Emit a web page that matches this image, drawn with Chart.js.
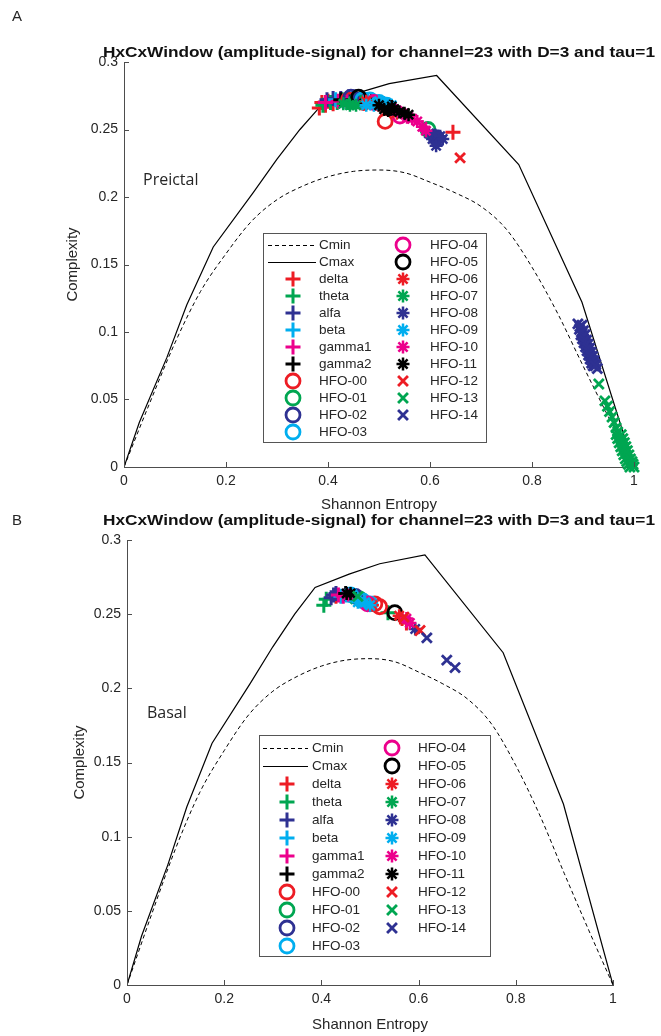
<!DOCTYPE html>
<html>
<head>
<meta charset="utf-8">
<script src="https://cdn.jsdelivr.net/npm/chart.js@4.4.0/dist/chart.umd.min.js"></script>
<style>
body{margin:0;background:#fff;width:661px;height:1036px;overflow:hidden;position:relative}
canvas{position:absolute;left:0}
#top{top:0}
#bot{top:500px}
</style>
</head>
<body>
<canvas id="top" width="661" height="520"></canvas>
<canvas id="bot" width="661" height="536"></canvas>
<script>
// axis ticks
const xTicks = [0, 0.2, 0.4, 0.6, 0.8, 1];
const yTicks = [0, 0.05, 0.1, 0.15, 0.2, 0.25, 0.3];

// Cmin / Cmax bounds
const cminH = [0, 0.05, 0.1, 0.15, 0.2, 0.25, 0.3, 0.35, 0.4, 0.45, 0.5, 0.55, 0.6, 0.65, 0.7, 0.75, 0.8, 0.85, 0.9, 0.95, 1];
const cminC = [0, 0.047, 0.092, 0.13, 0.158, 0.182, 0.198, 0.208, 0.215, 0.219, 0.22, 0.218, 0.211, 0.203, 0.193, 0.176, 0.148, 0.114, 0.075, 0.037, 0];
const cmaxH = [0, 0.03, 0.084, 0.123, 0.175, 0.253, 0.3, 0.345, 0.387, 0.457, 0.52, 0.613, 0.774, 0.898, 1];
const cmaxC = [0, 0.033, 0.081, 0.12, 0.163, 0.203, 0.228, 0.25, 0.268, 0.277, 0.284, 0.29, 0.224, 0.122, 0];

const seriesNames = ['delta', 'theta', 'alfa', 'beta', 'gamma1', 'gamma2',
  'HFO-00', 'HFO-01', 'HFO-02', 'HFO-03', 'HFO-04', 'HFO-05', 'HFO-06', 'HFO-07',
  'HFO-08', 'HFO-09', 'HFO-10', 'HFO-11', 'HFO-12', 'HFO-13', 'HFO-14'];
const red = '#ed1c24', green = '#00a651', blue = '#2e3192', cyan = '#00aeef', mag = '#ec008c', black = '#000000';
const seriesColors = [red, green, blue, cyan, mag, black,
  red, green, blue, cyan, mag, black,
  red, green, blue, cyan, mag, black,
  red, green, blue];
const seriesMarkers = ['cross', 'cross', 'cross', 'cross', 'cross', 'cross',
  'circle', 'circle', 'circle', 'circle', 'circle', 'circle',
  'star', 'star', 'star', 'star', 'star', 'star',
  'crossRot', 'crossRot', 'crossRot'];

// A - Preictal  [H, C]
const pre_delta = [[0.383, 0.266], [0.388, 0.27], [0.395, 0.268], [0.40, 0.271], [0.41, 0.269], [0.645, 0.248]];
const pre_theta = [[0.39, 0.268], [0.405, 0.27], [0.418, 0.27], [0.428, 0.272], [0.44, 0.27]];
const pre_alfa = [[0.398, 0.272], [0.41, 0.273], [0.425, 0.273], [0.44, 0.274], [0.452, 0.274]];
const pre_beta = [[0.415, 0.272], [0.43, 0.271], [0.447, 0.273], [0.46, 0.271], [0.475, 0.272], [0.49, 0.27]];
const pre_gamma1 = [[0.395, 0.27], [0.42, 0.271], [0.437, 0.272], [0.455, 0.271], [0.53, 0.265]];
const pre_gamma2 = [[0.425, 0.272], [0.445, 0.271], [0.47, 0.272], [0.485, 0.272], [0.51, 0.268]];
const pre_hfo00 = [[0.44, 0.272], [0.47, 0.27], [0.512, 0.256]];
const pre_hfo01 = [[0.455, 0.271], [0.596, 0.25]];
const pre_hfo02 = [[0.445, 0.274], [0.463, 0.272], [0.612, 0.244]];
const pre_hfo03 = [[0.468, 0.272], [0.482, 0.272], [0.50, 0.27], [0.515, 0.268]];
const pre_hfo04 = [[0.49, 0.27], [0.541, 0.26]];
const pre_hfo05 = [[0.46, 0.274], [0.52, 0.266]];
const pre_hfo06 = [[0.475, 0.271], [0.505, 0.267], [0.535, 0.262]];
const pre_hfo07 = [[0.43, 0.269], [0.443, 0.268], [0.455, 0.268]];
const pre_hfo08 = [[0.598, 0.247], [0.605, 0.243], [0.61, 0.246], [0.615, 0.241], [0.62, 0.245], [0.625, 0.243], [0.612, 0.238]];
const pre_hfo09 = [[0.475, 0.268], [0.49, 0.268], [0.50, 0.271], [0.51, 0.27], [0.525, 0.268]];
const pre_hfo10 = [[0.535, 0.264], [0.545, 0.262], [0.555, 0.259], [0.565, 0.258], [0.575, 0.256], [0.585, 0.252], [0.592, 0.249]];
const pre_hfo11 = [[0.50, 0.268], [0.51, 0.265], [0.518, 0.264], [0.525, 0.267], [0.53, 0.265], [0.54, 0.263], [0.55, 0.262], [0.558, 0.261]];
const pre_hfo12 = [[0.659, 0.229]];
const pre_hfo13 = [[0.931, 0.0615], [0.943, 0.049], [0.948, 0.045], [0.952, 0.041], [0.957, 0.037], [0.961, 0.033],
  [0.965, 0.029], [0.968, 0.026], [0.965, 0.024], [0.968, 0.021], [0.971, 0.018], [0.974, 0.015], [0.977, 0.012],
  [0.98, 0.009], [0.983, 0.006], [0.986, 0.004], [0.989, 0.002], [0.992, 0.0], [0.975, 0.024], [0.978, 0.021],
  [0.981, 0.018], [0.984, 0.015], [0.987, 0.012], [0.99, 0.009], [0.993, 0.006], [0.996, 0.004], [0.998, 0.002], [1.0, 0.0]];
const pre_hfo14 = [[0.89, 0.106], [0.893, 0.102], [0.896, 0.098], [0.899, 0.095], [0.902, 0.092], [0.905, 0.089],
  [0.908, 0.086], [0.911, 0.083], [0.914, 0.08], [0.917, 0.077], [0.92, 0.075], [0.898, 0.105], [0.901, 0.101],
  [0.904, 0.098], [0.907, 0.094], [0.91, 0.091], [0.913, 0.088], [0.916, 0.085], [0.919, 0.082], [0.922, 0.079],
  [0.925, 0.076], [0.928, 0.073], [0.894, 0.104], [0.897, 0.1], [0.9, 0.097], [0.903, 0.094], [0.906, 0.091],
  [0.909, 0.088], [0.912, 0.085], [0.915, 0.082], [0.918, 0.079], [0.921, 0.077], [0.924, 0.075]];

// B - Basal  [H, C]
const bas_delta = [[0.566, 0.247], [0.575, 0.244], [0.43, 0.262]];
const bas_theta = [[0.405, 0.256], [0.41, 0.26], [0.537, 0.251]];
const bas_alfa = [[0.42, 0.261], [0.425, 0.263], [0.43, 0.264]];
const bas_beta = [[0.44, 0.262], [0.45, 0.263], [0.47, 0.262]];
const bas_gamma1 = [[0.435, 0.263], [0.445, 0.262]];
const bas_gamma2 = [[0.45, 0.264], [0.46, 0.263]];
const bas_hfo00 = [[0.51, 0.257], [0.52, 0.255]];
const bas_hfo01 = [[0.48, 0.26]];
const bas_hfo02 = [[0.47, 0.262]];
const bas_hfo03 = [[0.46, 0.263], [0.485, 0.259], [0.50, 0.257]];
const bas_hfo04 = [[0.495, 0.257]];
const bas_hfo05 = [[0.551, 0.251]];
const bas_hfo06 = [[0.505, 0.256], [0.56, 0.249]];
const bas_hfo07 = [[0.47, 0.26]];
const bas_hfo08 = [[0.593, 0.24]];
const bas_hfo09 = [[0.48, 0.259], [0.49, 0.258], [0.50, 0.256], [0.475, 0.258]];
const bas_hfo10 = [[0.455, 0.263], [0.582, 0.244], [0.575, 0.247]];
const bas_hfo11 = [[0.452, 0.264], [0.46, 0.264]];
const bas_hfo12 = [[0.603, 0.239], [0.57, 0.248]];
const bas_hfo13 = [[0.475, 0.262]];
const bas_hfo14 = [[0.617, 0.234], [0.658, 0.219], [0.675, 0.214]];

const preictal = [pre_delta, pre_theta, pre_alfa, pre_beta, pre_gamma1, pre_gamma2,
  pre_hfo00, pre_hfo01, pre_hfo02, pre_hfo03, pre_hfo04, pre_hfo05, pre_hfo06, pre_hfo07,
  pre_hfo08, pre_hfo09, pre_hfo10, pre_hfo11, pre_hfo12, pre_hfo13, pre_hfo14];
const basal = [bas_delta, bas_theta, bas_alfa, bas_beta, bas_gamma1, bas_gamma2,
  bas_hfo00, bas_hfo01, bas_hfo02, bas_hfo03, bas_hfo04, bas_hfo05, bas_hfo06, bas_hfo07,
  bas_hfo08, bas_hfo09, bas_hfo10, bas_hfo11, bas_hfo12, bas_hfo13, bas_hfo14];

const titleText = 'HxCxWindow (amplitude-signal) for channel=23 with D=3 and tau=1';
const axisColor = '#4d4d4d';
const textColor = '#262626';
const font = '"Liberation Sans", Arial, sans-serif';

function zip(xs, ys) { return xs.map((x, i) => ({x: x, y: ys[i]})); }

function markerSize(m) {
  if (m == 'circle') return {r: 7, w: 2.8};
  if (m == 'star') return {r: 6.5, w: 2.5};
  if (m == 'crossRot') return {r: 7, w: 2.8};
  return {r: 7.5, w: 3};
}

function drawMarker(ctx, style, color, x, y) {
  const s = markerSize(style);
  const r = s.r;
  ctx.save();
  ctx.strokeStyle = color;
  ctx.lineWidth = s.w;
  ctx.beginPath();
  if (style == 'circle') {
    ctx.arc(x, y, r, 0, Math.PI * 2);
  } else if (style == 'cross') {
    ctx.moveTo(x - r, y); ctx.lineTo(x + r, y);
    ctx.moveTo(x, y - r); ctx.lineTo(x, y + r);
  } else if (style == 'crossRot') {
    const d = r * 0.707;
    ctx.moveTo(x - d, y - d); ctx.lineTo(x + d, y + d);
    ctx.moveTo(x - d, y + d); ctx.lineTo(x + d, y - d);
  } else {
    ctx.moveTo(x - r, y); ctx.lineTo(x + r, y);
    ctx.moveTo(x, y - r); ctx.lineTo(x, y + r);
    const d = r * 0.707;
    ctx.moveTo(x - d, y - d); ctx.lineTo(x + d, y + d);
    ctx.moveTo(x - d, y + d); ctx.lineTo(x + d, y - d);
  }
  ctx.stroke();
  ctx.restore();
}

const decor = {
  id: 'decor',
  afterDraw(chart, args, o) {
    const ctx = chart.ctx;
    const a = chart.chartArea;
    const xs = chart.scales.x, ys = chart.scales.y;
    ctx.save();
    // inward tick marks
    ctx.strokeStyle = axisColor;
    ctx.lineWidth = 1;
    ctx.beginPath();
    xTicks.forEach(v => {
      const px = Math.round(xs.getPixelForValue(v)) + 0.5;
      ctx.moveTo(px, a.bottom); ctx.lineTo(px, a.bottom - 5);
    });
    yTicks.forEach(v => {
      const py = Math.round(ys.getPixelForValue(v)) + 0.5;
      ctx.moveTo(a.left, py); ctx.lineTo(a.left + 5, py);
    });
    ctx.stroke();

    // panel letter
    ctx.fillStyle = textColor;
    ctx.font = '15px ' + font;
    ctx.textBaseline = 'middle';
    ctx.textAlign = 'left';
    ctx.fillText(o.letter, 12, o.letterY);

    // title, fit to its width in the figure
    ctx.fillStyle = '#111';
    ctx.font = 'bold 15px ' + font;
    const tw = ctx.measureText(titleText).width;
    ctx.save();
    ctx.translate(o.titleX0, o.titleY);
    ctx.scale((o.titleX1 - o.titleX0) / tw, 1);
    ctx.fillText(titleText, 0, 0);
    ctx.restore();

    // axis titles
    ctx.fillStyle = textColor;
    ctx.font = '15px ' + font;
    ctx.textAlign = 'center';
    ctx.fillText('Shannon Entropy', (a.left + a.right) / 2, o.xTitleY);
    ctx.save();
    ctx.translate(o.yTitleX, (a.top + a.bottom) / 2);
    ctx.rotate(-Math.PI / 2);
    ctx.fillText('Complexity', 0, 0);
    ctx.restore();

    // state label
    ctx.font = '16px "Open Sans", sans-serif';
    ctx.textAlign = 'left';
    ctx.fillText(o.state, o.stateX, o.stateY);

    // legend
    const L = o.legend;
    ctx.fillStyle = '#fff';
    ctx.fillRect(L.x0, L.y0, L.x1 - L.x0, L.y1 - L.y0);
    ctx.strokeStyle = '#555';
    ctx.lineWidth = 1;
    ctx.strokeRect(L.x0 + 0.5, L.y0 + 0.5, L.x1 - L.x0, L.y1 - L.y0);
    ctx.font = '13.5px ' + font;
    ctx.textAlign = 'left';
    ctx.fillStyle = textColor;
    // Cmin / Cmax sample lines
    ctx.strokeStyle = '#000';
    ctx.lineWidth = 1;
    ctx.setLineDash([4, 3]);
    ctx.beginPath();
    ctx.moveTo(L.lineX0, L.row0 + 0.5); ctx.lineTo(L.lineX1, L.row0 + 0.5);
    ctx.stroke();
    ctx.setLineDash([]);
    ctx.lineWidth = 1.2;
    ctx.beginPath();
    ctx.moveTo(L.lineX0, L.row0 + L.dy + 0.5); ctx.lineTo(L.lineX1, L.row0 + L.dy + 0.5);
    ctx.stroke();
    ctx.fillText('Cmin', L.text1, L.row0);
    ctx.fillText('Cmax', L.text1, L.row0 + L.dy);
    seriesNames.forEach((name, i) => {
      const slot = i + 2;
      let col = 0, row = slot;
      if (slot >= 12) { col = 1; row = slot - 12; }
      const y = L.row0 + row * L.dy;
      const mx = col == 0 ? L.mark1 : L.mark2;
      const tx = col == 0 ? L.text1 : L.text2;
      drawMarker(ctx, seriesMarkers[i], seriesColors[i], mx, y);
      ctx.fillStyle = textColor;
      ctx.fillText(name, tx, y);
    });
    ctx.restore();
  }
};

function buildChart(id, data, cfg) {
  const n = seriesNames.length;
  const datasets = [
    {data: zip(cminH, cminC), showLine: true, borderColor: '#000', borderWidth: 1, borderDash: [4, 3],
      pointRadius: 0, cubicInterpolationMode: 'monotone', order: 100},
    {data: zip(cmaxH, cmaxC), showLine: true, borderColor: '#000', borderWidth: 1.2,
      pointRadius: 0, tension: 0, order: 99}
  ];
  seriesNames.forEach((name, i) => {
    const s = markerSize(seriesMarkers[i]);
    datasets.push({
      label: name,
      data: data[i].map(p => ({x: p[0], y: p[1]})),
      pointStyle: seriesMarkers[i],
      pointRadius: s.r,
      pointBorderWidth: s.w,
      pointBorderColor: seriesColors[i],
      pointBackgroundColor: 'rgba(0,0,0,0)',
      showLine: false,
      clip: false,
      order: n - i
    });
  });
  const c = cfg.canvas;
  return new Chart(document.getElementById(id), {
    type: 'scatter',
    data: {datasets: datasets},
    options: {
      responsive: false,
      animation: false,
      events: [],
      layout: {padding: {top: cfg.top, right: c.w - cfg.right, left: 0, bottom: 0}},
      plugins: {legend: {display: false}, tooltip: {enabled: false}, decor: cfg.decor},
      scales: {
        x: {
          type: 'linear', min: 0, max: 1,
          afterBuildTicks: s => { s.ticks = xTicks.map(v => ({value: v})); },
          afterFit: s => { s.height = c.h - cfg.bottom; },
          grid: {display: false, drawTicks: false},
          border: {display: true, color: axisColor, width: 1},
          ticks: {color: textColor, font: {family: font, size: 14}, padding: 6,
            maxRotation: 0, autoSkip: false, callback: v => String(+v.toFixed(2))}
        },
        y: {
          type: 'linear', min: 0, max: 0.3,
          afterBuildTicks: s => { s.ticks = yTicks.map(v => ({value: v})); },
          afterFit: s => { s.width = cfg.left; },
          grid: {display: false, drawTicks: false},
          border: {display: true, color: axisColor, width: 1},
          ticks: {color: textColor, font: {family: font, size: 14}, padding: 6,
            autoSkip: false, callback: v => String(+v.toFixed(2))}
        }
      }
    },
    plugins: [decor]
  });
}

buildChart('top', preictal, {
  canvas: {w: 661, h: 520}, left: 124, right: 634, top: 62, bottom: 467,
  decor: {
    letter: 'A', letterY: 17, titleX0: 103, titleX1: 655, titleY: 53,
    xTitleY: 505, yTitleX: 73, state: 'Preictal', stateX: 143, stateY: 180,
    legend: {x0: 263, y0: 233, x1: 486, y1: 442, row0: 245, dy: 17,
      lineX0: 268, lineX1: 316, mark1: 293, text1: 319, mark2: 403, text2: 430}
  }
});

buildChart('bot', basal, {
  canvas: {w: 661, h: 536}, left: 127, right: 613, top: 40, bottom: 485,
  decor: {
    letter: 'B', letterY: 21, titleX0: 103, titleX1: 655, titleY: 21,
    xTitleY: 525, yTitleX: 80, state: 'Basal', stateX: 147, stateY: 213,
    legend: {x0: 259, y0: 235, x1: 490, y1: 456, row0: 248, dy: 18,
      lineX0: 263, lineX1: 308, mark1: 287, text1: 312, mark2: 392, text2: 418}
  }
});
</script>
</body>
</html>
